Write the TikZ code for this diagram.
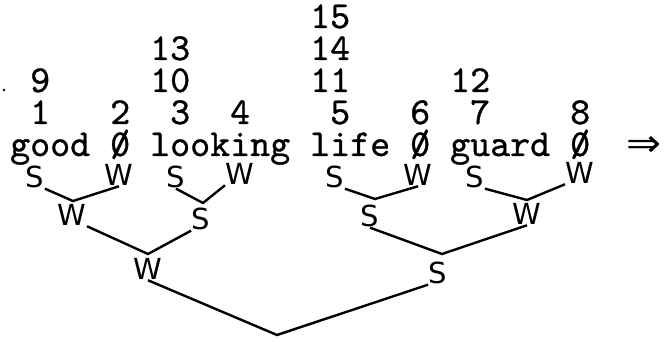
\documentclass[tikz,border=0pt]{standalone}
\usepackage{fontspec}
\usepackage{graphicx}
\newfontfamily\tw{lmmono10-regular.otf}[RawFeature={embolden=0.9}]
\newfontfamily\hand{DejaVu Sans}
\newfontfamily\symf{DejaVu Sans}
\newcommand{\nul}{\makebox[0pt][l]{0}/}
\begin{document}
\begin{tikzpicture}[x=1pt,y=-1pt,
  txt/.style={font=\tw\fontsize{38.1}{38.1}\selectfont, anchor=base west, inner sep=0pt},
  lab/.style={font=\hand\fontsize{29}{29}\selectfont, inner sep=0.5pt},
  edge/.style={line width=2.4pt}]
\useasboundingbox (0,0) rectangle (664,342);
% numbers
\node[txt] (n15) at (310,28) {15};
\node[txt] (n13) at (150,60) {13};
\node[txt] (n14) at (310,60) {14};
\node[txt] (n9)  at (30,92) {9};
\node[txt] (n10) at (150,92) {10};
\node[txt] (n11) at (310,92) {11};
\node[txt] (n12) at (450,92) {12};
\node[txt] (n1) at (30,124) {1};
\node[txt] (n2) at (110,124) {2};
\node[txt] (n3) at (170,124) {3};
\node[txt] (n4) at (230,124) {4};
\node[txt] (n5) at (330,124) {5};
\node[txt] (n6) at (410,124) {6};
\node[txt] (n7) at (470,124) {7};
\node[txt] (n8) at (570,124) {8};
% words
\node[txt] (w1) at (10,156) {good};
\node[txt] (z1) at (110,156) {\nul};
\node[txt] (w2) at (150,156) {looking};
\node[txt] (w3) at (310,156) {life};
\node[txt] (z2) at (410,156) {\nul};
\node[txt] (w4) at (450,156) {guard};
\node[txt] (z3) at (570,156) {\nul};
\node[font=\symf\fontsize{38}{38}\selectfont, anchor=west, inner sep=0pt] (arr) at (626,146) {\scalebox{1.1}[1]{⇒}};
\fill (4,90) circle (1.3);
% level 1 labels
\node[lab] (a1) at (35,177) {S};
\node[lab] (b1) at (119,175) {W};
\node[lab] (c1) at (176,177) {S};
\node[lab] (d1) at (240,174) {W};
\node[lab] (e1) at (335,177) {S};
\node[lab] (f1) at (418,175) {W};
\node[lab] (g1) at (475,177) {S};
\node[lab] (h1) at (580,173) {W};
\coordinate (j1) at (73,201);
\coordinate (j2) at (203,203);
\coordinate (j3) at (375,199);
\coordinate (j4) at (527,200);
% level 2 labels
\node[lab] (p1) at (72,215) {W};
\node[lab] (q1) at (201,219) {S};
\node[lab] (p2) at (370,216) {S};
\node[lab] (q2) at (527,214) {W};
\coordinate (k1) at (148,254);
\coordinate (k2) at (442,254);
% level 3 labels
\node[lab] (r1) at (148,269) {W};
\node[lab] (r2) at (438,273) {S};
\coordinate (root) at (277,335);
% edges
\draw[edge] (a1.south east) -- (j1) -- (b1.south);
\draw[edge] (c1.south) -- (j2) -- (d1.south west);
\draw[edge] (e1.south east) -- (j3) -- (f1.south);
\draw[edge] (g1.south east) -- (j4) -- (h1.south west);
\draw[edge] (p1.south east) -- (k1) -- (q1.south west);
\draw[edge] (p2.south) -- (k2) -- (q2.south);
\draw[edge] (r1.south) -- (root) -- (r2.south west);
\end{tikzpicture}
\end{document}
